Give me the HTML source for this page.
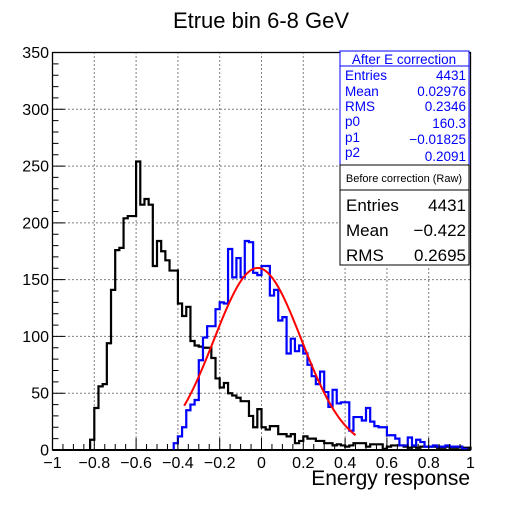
<!DOCTYPE html>
<html><head><meta charset="utf-8"><style>
body{margin:0;background:#fff;}
svg text{font-family:"Liberation Sans",sans-serif;}
</style></head><body>
<svg id="chart" width="523" height="500" xmlns="http://www.w3.org/2000/svg">
<rect width="523" height="500" fill="#fff"/>
<text x="261" y="28" font-size="22" text-anchor="middle">Etrue bin 6-8 GeV</text>
<g id="grid"></g>
<g id="series"></g>
<g id="axes"></g>
<text x="470" y="485" font-size="21" text-anchor="end">Energy response</text>
<g fill="#0000ff" font-size="13.5">
<rect x="340" y="51" width="129" height="114" fill="#fff" stroke="#0000ff"/>
<line x1="340" y1="66" x2="469" y2="66" stroke="#0000ff"/>
<text x="404" y="64" text-anchor="middle">After E correction</text>
<text x="345" y="80">Entries</text><text x="466" y="80" text-anchor="end">4431</text>
<text x="345" y="96">Mean</text><text x="466" y="96" text-anchor="end">0.02976</text>
<text x="345" y="111">RMS</text><text x="466" y="111" text-anchor="end">0.2346</text>
<text x="345" y="126">p0</text><text x="466" y="128" text-anchor="end">160.3</text>
<text x="345" y="142">p1</text><text x="466" y="144" text-anchor="end">−0.01825</text>
<text x="345" y="157">p2</text><text x="466" y="161" text-anchor="end">0.2091</text>
</g>
<g font-size="17">
<rect x="340" y="165" width="129" height="25" fill="#fff" stroke="#000"/>
<text x="404" y="182" text-anchor="middle" font-size="11">Before correction (Raw)</text>
<rect x="340" y="190" width="129" height="75" fill="#fff" stroke="#000"/>
<text x="346" y="211">Entries</text><text x="466" y="211" text-anchor="end">4431</text>
<text x="346" y="236">Mean</text><text x="466" y="236" text-anchor="end">−0.422</text>
<text x="346" y="261">RMS</text><text x="466" y="261" text-anchor="end">0.2695</text>
</g>
</svg>
<script>
const rawStart = 9;
const rawCounts = [9,37,56,58,94,141,176,178,204,206,206,254,216,221,216,162,184,175,167,158,158,129,118,126,96,92,91,90,90,81,63,55,59,50,48,46,43,43,30,20,36,20,18,21,21,14,14,12,14,6,8,12,10,10,8,8,6,6,4,5,4,3,4,6,6,6,3,5,5,5,1,3,4,4,4,3,2,3,2,3,3,3,3,2,2,3,2,2,3,2,2];
const corrStart = 29;
const corrCounts = [6,12,20,35,40,44,79,99,109,109,124,130,129,177,152,169,152,184,183,156,154,162,162,136,141,114,117,85,98,87,92,85,75,65,58,69,51,38,53,41,42,42,17,29,29,26,37,25,21,20,20,13,13,10,4,4,11,4,9,7,3,3,4,3,3,4,3,3,3,1];
const fitParams = [160.3, -0.01825, 0.2091];
const fitRange = [-0.37, 0.45];
const xTicks = [-1,-0.8,-0.6,-0.4,-0.2,0,0.2,0.4,0.6,0.8,1];
const xTickLabels = ["−1","−0.8","−0.6","−0.4","−0.2","0","0.2","0.4","0.6","0.8","1"];
const yTicks = [0,50,100,150,200,250,300,350];

const L=52.5,R=470.5,T=52.5,B=450;
const X=v=>L+(v+1)/2*(R-L);
const Y=c=>B-c/350*(B-T);
const NS="http://www.w3.org/2000/svg";
function mk(tag,attrs,parent){const e=document.createElementNS(NS,tag);for(const k in attrs)e.setAttribute(k,attrs[k]);parent.appendChild(e);return e;}
const grid=document.getElementById('grid'),series=document.getElementById('series'),axes=document.getElementById('axes');
xTicks.forEach((t,i)=>{
  if(i>0&&i<xTicks.length-1){const g=mk('line',{x1:X(t),x2:X(t),y1:T,y2:B,stroke:'#000','stroke-dasharray':'1,3'},grid);
  
  }
  const lb=mk('text',{x:X(t),y:468,'font-size':16,'text-anchor':'middle'},axes);lb.textContent=xTickLabels[i];
  
  
});
yTicks.forEach(t=>{
  if(t>0&&t<350){const g=mk('line',{x1:L,x2:R,y1:Y(t),y2:Y(t),stroke:'#000','stroke-dasharray':'1,3'},grid);
  
  }
  const lb=mk('text',{x:49,y:Y(t)+5.5,'font-size':16,'text-anchor':'end'},axes);lb.textContent=t;
  
  
});
function hist(start,counts,color,name){
  let d=`M${X(-1+start*0.02)},${B}`;
  counts.forEach((c,i)=>{const x0=X(-1+(start+i)*0.02),x1=X(-1+(start+i+1)*0.02);d+=`L${x0},${Y(c)}L${x1},${Y(c)}`;});
  d+=`L${X(-1+(start+counts.length)*0.02)},${B}`;
  const p=mk('path',{d:d,fill:'none',stroke:color,'stroke-width':2.2},series);
  
  
}
const bl=mk('path',{d:`M${L},${B}H${R}`,stroke:'#000','stroke-width':2},series);


hist(rawStart,rawCounts,'#000','raw-histogram');
hist(corrStart,corrCounts,'#0000ff','corrected-histogram');
let fd='';
for(let k=0;k<=80;k++){const v=fitRange[0]+(fitRange[1]-fitRange[0])*k/80;const c=fitParams[0]*Math.exp(-0.5*((v-fitParams[1])/fitParams[2])**2);fd+=(k?'L':'M')+X(v)+','+Y(c);}
const fit=mk('path',{d:fd,fill:'none',stroke:'#ff0000','stroke-width':2},series);


const fr=mk('rect',{x:L,y:T,width:R-L,height:B-T,fill:'none',stroke:'#000','stroke-width':1.3},axes);


let td='';
for(let v=-1;v<=1.0001;v+=0.05){const major=Math.abs(v*5-Math.round(v*5))<1e-6;td+=`M${X(v)},${B}v${major?-12:-6}`;}
for(let c=0;c<=350.01;c+=10){const major=c%50===0;td+=`M${L},${Y(c)}h${major?12:6}`;}
const ticks=mk('path',{d:td,stroke:'#000','stroke-width':1},axes);


</script>
</body></html>
